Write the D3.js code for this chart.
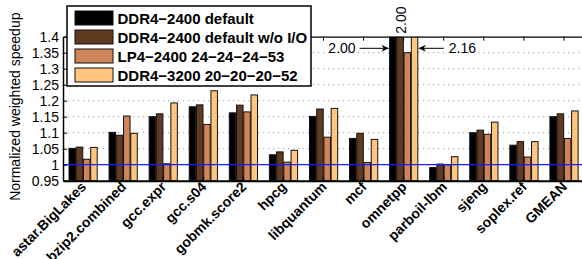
<!DOCTYPE html>
<html>
<head>
<meta charset="utf-8">
<script src="https://cdn.jsdelivr.net/npm/d3@7"></script>
<style>
  html, body { margin: 0; padding: 0; background: #fff; }
  svg { display: block; font-family: "Liberation Sans", Arial, Helvetica, sans-serif; }
</style>
</head>
<body>
<svg id="chart" width="582" height="259"></svg>
<script>
const categories = ["astar.BigLakes","bzip2.combined","gcc.expr","gcc.s04","gobmk.score2","hpcg","libquantum","mcf","omnetpp","parboil-lbm","sjeng","soplex.ref","GMEAN"];
const seriesNames = ["DDR4\u22122400 default","DDR4\u22122400 default w/o I/O","LP4\u22122400 24\u221224\u221224\u221253","DDR4\u22123200 20\u221220\u221220\u221252"];
const ddr4_2400_default = [1.051,1.101,1.150,1.181,1.162,1.031,1.151,1.082,2.00,0.991,1.100,1.061,1.150];
const ddr4_2400_noio    = [1.055,1.092,1.159,1.187,1.186,1.040,1.174,1.098,2.00,1.002,1.108,1.072,1.159];
const lp4_2400          = [1.017,1.152,1.003,1.126,1.165,1.008,1.086,1.007,1.35,1.000,1.095,1.024,1.082];
const ddr4_3200         = [1.054,1.098,1.193,1.231,1.218,1.045,1.176,1.079,2.16,1.025,1.133,1.072,1.168];
const yTicks = [0.95,1,1.05,1.1,1.15,1.2,1.25,1.3,1.35,1.4];
const yTickLabels = ["0.95","1","1.05","1.1","1.15","1.2","1.25","1.3","1.35","1.4"];
const colors = ["#000000","#603b22","#d0845a","#fec67f"];

const seriesValues = [ddr4_2400_default, ddr4_2400_noio, lp4_2400, ddr4_3200];

const L = 63, R = 584, T = 36.7, B = 180.7;
const svg = d3.select("#chart");

const x = d3.scaleBand().domain(categories).range([L, R]).paddingInner(0).paddingOuter(0);
const x1 = d3.scaleBand().domain(d3.range(4)).range([6, 34.2]).paddingInner(0.1);
const y = d3.scaleLinear().domain([0.95, 1.4]).range([B, T]);

svg.append("defs").append("clipPath").attr("id","plotclip")
  .append("rect").attr("x", L).attr("y", T).attr("width", R - L).attr("height", B - T);

// grid
svg.append("g").selectAll("line").data(yTicks.filter(v => v > 0.95 && v < 1.4)).join("line")
  .attr("x1", L).attr("x2", R).attr("y1", d => y(d)).attr("y2", d => y(d))
  .attr("stroke", "#9a9a9a").attr("stroke-width", 1).attr("stroke-dasharray", "1.2,3.8");

// bars
const bars = svg.append("g").attr("clip-path", "url(#plotclip)");
categories.forEach((c, i) => {
  seriesValues.forEach((vals, s) => {
    bars.append("rect")
      .attr("x", x(c) + x1(s))
      .attr("width", x1.bandwidth())
      .attr("y", y(vals[i]))
      .attr("height", Math.max(0, B - y(vals[i])))
      .attr("fill", colors[s])
      .attr("stroke", "#111")
      .attr("stroke-width", 1);
  });
});

// reference line at 1
svg.append("line").attr("x1", L).attr("x2", R).attr("y1", y(1)).attr("y2", y(1))
  .attr("stroke", "#1a1aff").attr("stroke-width", 1.2);

// left axis
const yAxis = d3.axisLeft(y).tickValues(yTicks).tickFormat((d, i) => yTickLabels[i]).tickSizeInner(-4).tickSizeOuter(0).tickPadding(4);
const gy = svg.append("g").attr("transform", `translate(${L},0)`).call(yAxis);
gy.select(".domain").attr("stroke", "#000").attr("stroke-width", 1.5);
gy.selectAll("text").attr("font-size", 14).attr("fill", "#000");

// top border with ticks at centres
const xTop = d3.axisTop(x).tickSizeInner(-4).tickSizeOuter(0).tickFormat("");
const gt = svg.append("g").attr("transform", `translate(0,${T})`).call(xTop);
gt.select(".domain").attr("stroke", "#000").attr("stroke-width", 1.2);

// bottom axis
const xBot = d3.axisBottom(x).tickSizeInner(-4).tickSizeOuter(0).tickFormat("");
const gb = svg.append("g").attr("transform", `translate(0,${B})`).call(xBot);
gb.select(".domain").attr("stroke", "#000").attr("stroke-width", 2);

// x labels
svg.append("g").selectAll("text").data(categories).join("text")
  .attr("transform", d => `translate(${x(d) + x.bandwidth()/2 + 4},${B + 7}) rotate(-45)`)
  .attr("text-anchor", "end")
  .attr("font-size", 14).attr("font-weight", "bold")
  .text(d => d);

// y title
svg.append("text")
  .attr("transform", `translate(20,${(T + B)/2 - 2}) rotate(-90)`)
  .attr("text-anchor", "middle").attr("font-size", 14)
  .text("Normalized weighted speedup");

// annotations
const defs = svg.select("defs");
defs.append("marker").attr("id", "arr").attr("viewBox", "0 0 10 10").attr("refX", 10).attr("refY", 5)
  .attr("markerWidth", 9).attr("markerHeight", 7).attr("markerUnits", "userSpaceOnUse").attr("orient", "auto")
  .append("path").attr("d", "M0,0 L10,5 L0,10 L3,5 Z").attr("fill", "#000");

const omCenter = x("omnetpp") + x.bandwidth()/2;
const ay = 48.3;
svg.append("text").attr("x", x("omnetpp") + x1(0) - 8 - 26).attr("y", 53).attr("text-anchor", "end")
  .attr("font-size", 14).text(ddr4_2400_default[8].toFixed(2));
svg.append("line").attr("x1", x("omnetpp") + x1(0) - 30).attr("x2", x("omnetpp") + x1(0) - 1)
  .attr("y1", ay).attr("y2", ay).attr("stroke", "#000").attr("stroke-width", 1).attr("marker-end", "url(#arr)");

svg.append("text").attr("transform", `translate(${omCenter + 2},${T - 3}) rotate(-90)`)
  .attr("text-anchor", "start").attr("font-size", 14).text(ddr4_2400_noio[8].toFixed(2));

svg.append("line").attr("x1", x("omnetpp") + x1(3) + x1.bandwidth() + 26).attr("x2", x("omnetpp") + x1(3) + x1.bandwidth() + 1)
  .attr("y1", ay).attr("y2", ay).attr("stroke", "#000").attr("stroke-width", 1).attr("marker-end", "url(#arr)");
svg.append("text").attr("x", x("omnetpp") + x1(3) + x1.bandwidth() + 31).attr("y", 53)
  .attr("font-size", 14).text(ddr4_3200[8].toFixed(2));

// legend
const lg = svg.append("g");
lg.append("rect").attr("x", 67).attr("y", 6).attr("width", 244).attr("height", 80)
  .attr("fill", "#fff").attr("stroke", "#000").attr("stroke-width", 1.5);
seriesNames.forEach((n, i) => {
  lg.append("rect").attr("x", 75).attr("y", 11 + i*19).attr("width", 38).attr("height", 14)
    .attr("fill", colors[i]).attr("stroke", "#111").attr("stroke-width", 1);
  lg.append("text").attr("x", 117.5).attr("y", 24 + i*19).attr("font-size", 15).attr("font-weight", "bold").text(n);
});
</script>
</body>
</html>
